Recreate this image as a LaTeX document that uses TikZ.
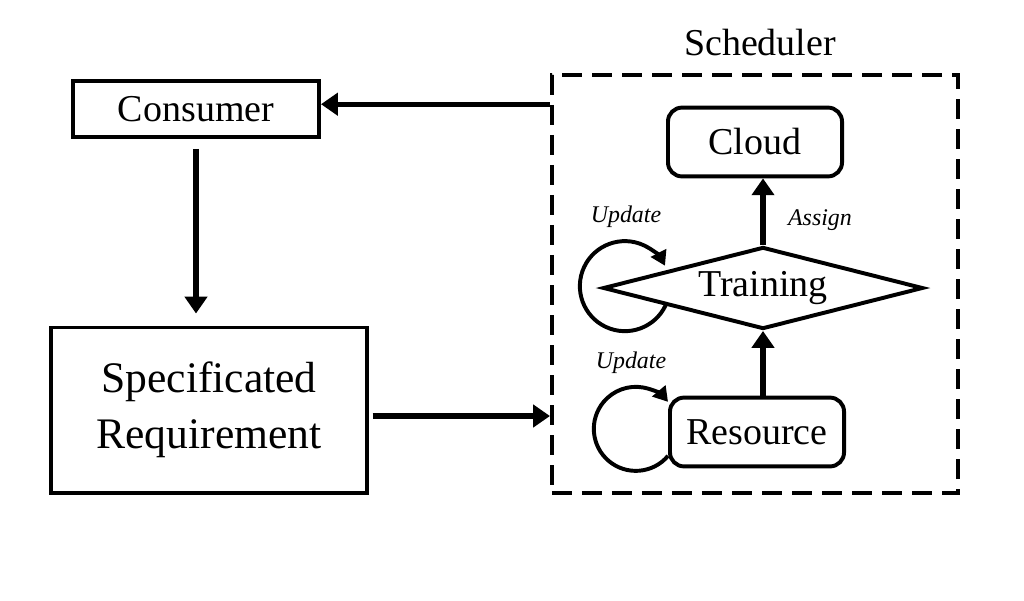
\documentclass[tikz,border=0pt]{standalone}
\usepackage{fontspec}
\setmainfont{Liberation Serif}
\usetikzlibrary{positioning,shapes.geometric,arrows.meta}
\tikzstyle{box} = [draw, line width=2.8pt, inner sep=0pt, font=\fontsize{27}{32}\selectfont]
\tikzstyle{rbox} = [box, rounded corners=0.35cm, minimum width=4.35cm, minimum height=1.72cm]
\tikzstyle{arr} = [line width=3.6pt, -{Triangle[length=0.42cm,width=0.55cm]}]
\tikzstyle{looparr} = [line width=2.8pt, -{Triangle[length=0.36cm,width=0.42cm]}]
\tikzstyle{lbl} = [font=\fontsize{17}{20}\selectfont\itshape]
\begin{document}
\begin{tikzpicture}[x=0.025cm,y=-0.025cm]
                        \useasboundingbox (0,0) rectangle (1024,600);
                        \node[box, minimum width=6.15cm, minimum height=1.4cm](cons) at (196,109) {Consumer};
                        \node[box, minimum width=7.875cm, minimum height=4.125cm, align=center, font=\fontsize{31}{40}\selectfont](spec) at (209,410) {Specificated\\Requirement};

                        \node[draw, dash pattern=on 0.5cm off 0.25cm, line width=2.8pt, minimum width=10.15cm, minimum height=10.45cm](sched) at (755,284) {};
                        \node[font=\fontsize{27}{32}\selectfont](schedlbl) at (760,43) {Scheduler};

                        \node[rbox](cloud) at (755,142) {Cloud};
                        \node[box, diamond, aspect=3.9, minimum width=8cm, minimum height=2.05cm](train) at (763,288) {Training};
                        \node[rbox](res) at (757,432) {Resource};

                        \draw[arr]([yshift=0.12cm]sched.west |- cons.east) -- ([yshift=0.12cm]cons.east);
                        \draw[arr,shorten <=0.25cm,shorten >=0.3cm](cons.south) -- (cons.south |- spec.north);
                        \draw[arr,shorten <=0.1cm]([yshift=-0.15cm]spec.east) -- ([yshift=-0.15cm]spec.east -| sched.west);
                        \draw[arr](train.north) -- (train.north |- cloud.south);
                        \draw[arr](train.south |- res.north) -- (train.south);

                        \draw[looparr](train.190) arc[start angle=-25, end angle=-333, radius=1.125cm];
                        \draw[looparr](res.195) arc[start angle=-40, end angle=-320, radius=1.05cm];

                        \node[lbl](assign) at (820,220) {Assign};
                        \node[lbl](upd1) at (626,217) {Update};
                        \node[lbl](upd2) at (631,363) {Update};
                    \end{tikzpicture}
\end{document}
